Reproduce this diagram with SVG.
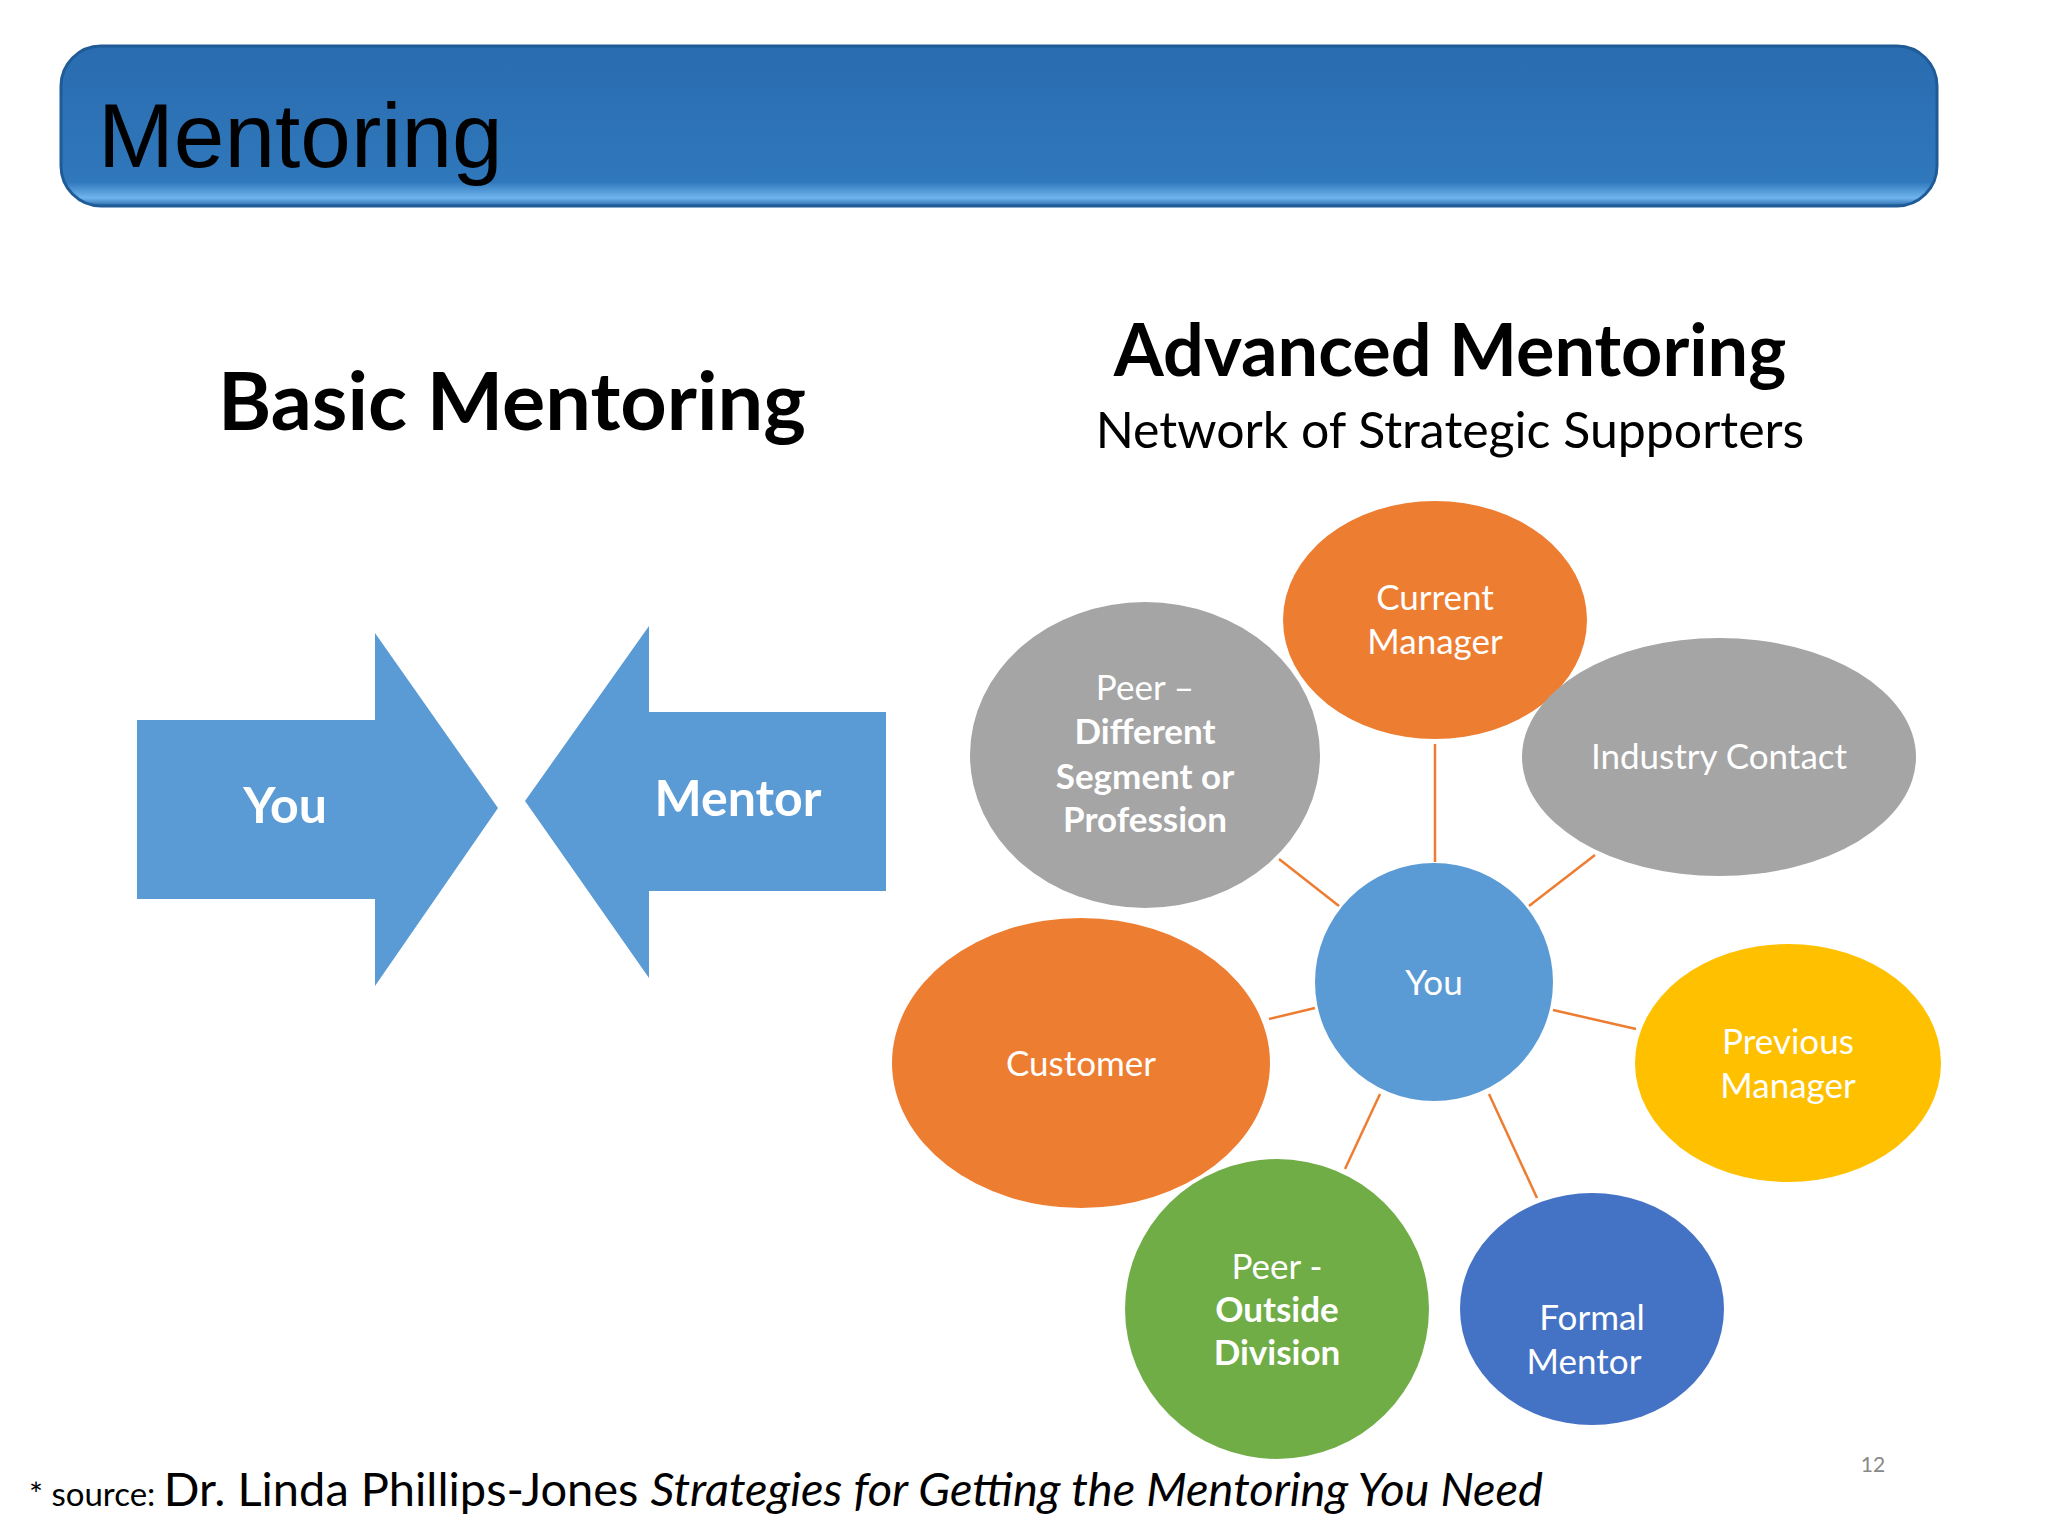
<svg xmlns="http://www.w3.org/2000/svg" width="2048" height="1536" viewBox="0 0 2048 1536">
<defs>
<linearGradient id="bar" x1="0" y1="0" x2="0" y2="1">
<stop offset="0" stop-color="#2a6cb0"/><stop offset="0.85" stop-color="#2f78bb"/><stop offset="0.95" stop-color="#6fb4ee"/><stop offset="1" stop-color="#2a6aa8"/>
</linearGradient>
<style>
text{font-family:Lato,"Liberation Sans",sans-serif}
.n{font-size:35px;fill:#fff;text-anchor:middle}
.b{font-weight:bold}
.c line{stroke:#ED7D31;stroke-width:2.5}
</style>
</defs>
<rect width="2048" height="1536" fill="#fff"/>
<g id="titlebar">
<rect x="61" y="46" width="1876" height="160" rx="40" fill="url(#bar)" stroke="#1f5b96" stroke-width="3"/>
<text x="98" y="167" font-size="91" style="font-family:'Liberation Sans',Arial,sans-serif" fill="#000">Mentoring</text>
</g>
<text x="512" y="430" font-size="81" font-weight="bold" text-anchor="middle">Basic Mentoring</text>
<text x="1450" y="376" font-size="72" font-weight="bold" text-anchor="middle">Advanced Mentoring</text>
<text x="1450" y="448" font-size="50" text-anchor="middle">Network of Strategic Supporters</text>
<g id="arrow-you">
<polygon points="137,720 375,720 375,633 498,808 375,986 375,899 137,899" fill="#5B9BD5"/>
<text x="285" y="823" font-size="50" font-weight="bold" fill="#fff" text-anchor="middle">You</text>
</g>
<g id="arrow-mentor">
<polygon points="886,712 649,712 649,626 525,801 649,978 649,891 886,891" fill="#5B9BD5"/>
<text x="738" y="816" font-size="50" font-weight="bold" fill="#fff" text-anchor="middle">Mentor</text>
</g>
<g id="connectors" class="c">
<line x1="1435" y1="744" x2="1435" y2="862"/>
<line x1="1279" y1="859" x2="1339" y2="906"/>
<line x1="1595" y1="855" x2="1529" y2="906"/>
<line x1="1269" y1="1019" x2="1315" y2="1008"/>
<line x1="1553" y1="1010" x2="1636" y2="1029"/>
<line x1="1380" y1="1094" x2="1345" y2="1169"/>
<line x1="1489" y1="1094" x2="1537" y2="1198"/>
</g>
<g id="current-manager"><ellipse cx="1435" cy="620" rx="152" ry="119" fill="#ED7D31"/>
<text class="n" x="1435" y="610">Current</text><text class="n" x="1435" y="654">Manager</text></g>
<g id="peer-different"><ellipse cx="1145" cy="755" rx="175" ry="153" fill="#A5A5A5"/>
<text class="n" x="1145" y="700">Peer –</text><text class="n b" x="1145" y="744">Different</text><text class="n b" x="1145" y="789">Segment or</text><text class="n b" x="1145" y="832">Profession</text></g>
<g id="industry-contact"><ellipse cx="1719" cy="757" rx="197" ry="119" fill="#A5A5A5"/>
<text class="n" x="1719" y="769">Industry Contact</text></g>
<g id="you"><ellipse cx="1434" cy="982" rx="119" ry="119" fill="#5B9BD5"/>
<text class="n" x="1434" y="995">You</text></g>
<g id="customer"><ellipse cx="1081" cy="1063" rx="189" ry="145" fill="#ED7D31"/>
<text class="n" x="1081" y="1076">Customer</text></g>
<g id="previous-manager"><ellipse cx="1788" cy="1063" rx="153" ry="119" fill="#FFC000"/>
<text class="n" x="1788" y="1054">Previous</text><text class="n" x="1788" y="1098">Manager</text></g>
<g id="peer-outside"><ellipse cx="1277" cy="1309" rx="152" ry="150" fill="#70AD47"/>
<text class="n" x="1277" y="1279">Peer -</text><text class="n b" x="1277" y="1322">Outside</text><text class="n b" x="1277" y="1365">Division</text></g>
<g id="formal-mentor"><ellipse cx="1592" cy="1309" rx="132" ry="116" fill="#4472C4"/>
<text class="n" x="1592" y="1330">Formal</text><text class="n" x="1584" y="1374">Mentor</text></g>
<text x="29" y="1506" font-size="47"><tspan font-size="33">* source: </tspan>Dr. Linda Phillips-Jones <tspan font-style="italic">Strategies for Getting the Mentoring You Need</tspan></text>
<text x="1873" y="1472" font-size="21" fill="#888" text-anchor="middle">12</text>
</svg>
